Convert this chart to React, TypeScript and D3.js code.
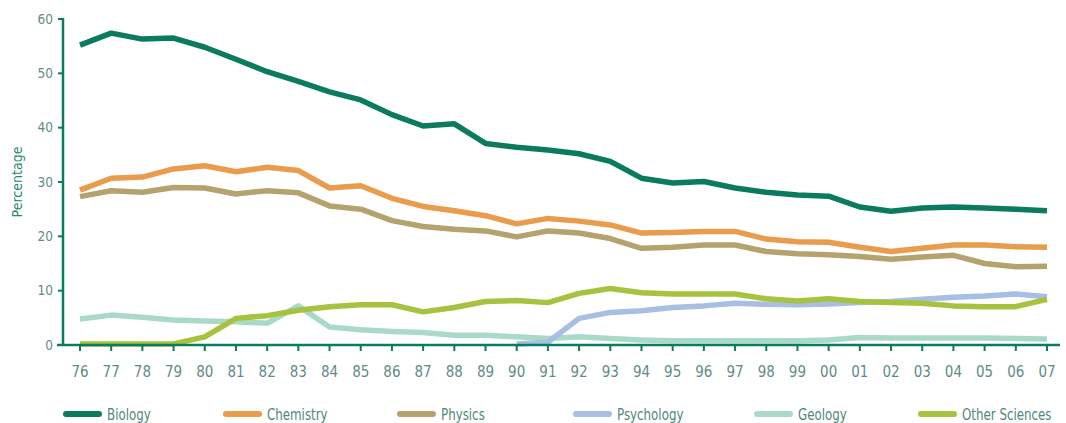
import React from "react";
import * as d3 from "d3";

const years = ["76","77","78","79","80","81","82","83","84","85","86","87","88","89","90","91","92","93","94","95","96","97","98","99","00","01","02","03","04","05","06","07"];

const biology = [55.2,57.4,56.3,56.5,54.8,52.6,50.3,48.5,46.6,45.1,42.4,40.3,40.7,37.1,36.4,35.9,35.2,33.8,30.7,29.8,30.1,28.9,28.1,27.6,27.4,25.4,24.6,25.2,25.4,25.2,25.0,24.7];
const chemistry = [28.5,30.7,30.9,32.4,33.0,31.9,32.7,32.1,28.9,29.3,27.0,25.5,24.7,23.8,22.3,23.3,22.8,22.1,20.6,20.7,20.9,20.9,19.5,19.0,18.9,18.0,17.2,17.8,18.4,18.4,18.1,18.0];
const physics = [27.3,28.4,28.1,29.0,28.9,27.8,28.4,28.0,25.6,25.0,22.9,21.8,21.3,21.0,19.9,21.0,20.6,19.6,17.8,18.0,18.4,18.4,17.2,16.8,16.6,16.3,15.8,16.2,16.5,15.0,14.4,14.5];
const psychology: (number | null)[] = [null,null,null,null,null,null,null,null,null,null,null,null,null,null,0.2,0.5,4.9,6.0,6.3,6.9,7.2,7.7,7.5,7.4,7.55,7.8,8.0,8.4,8.8,9.0,9.4,8.9];
const geology = [4.8,5.5,5.1,4.6,4.4,4.3,4.0,7.2,3.3,2.8,2.5,2.3,1.8,1.8,1.5,1.2,1.5,1.2,0.9,0.8,0.8,0.8,0.8,0.8,0.9,1.4,1.3,1.3,1.3,1.3,1.2,1.1];
const otherSciences = [0.2,0.2,0.2,0.2,1.5,4.9,5.4,6.4,7.05,7.4,7.4,6.1,6.9,8.0,8.2,7.8,9.5,10.4,9.6,9.4,9.4,9.4,8.5,8.1,8.5,8.0,7.8,7.7,7.2,7.05,7.05,8.4];

const yTicks = [0, 10, 20, 30, 40, 50, 60];

const seriesNames = ["Biology","Chemistry","Physics","Psychology","Geology","Other Sciences"];
const seriesColors = ["#0b7b5f","#e89c4c","#b5a26f","#a6bfe2","#a9dac8","#a6c23e"];
const seriesData = [biology, chemistry, physics, psychology, geology, otherSciences];
// drawing order: back to front
const drawOrder = [4, 3, 5, 2, 1, 0];

const W = 1066, H = 423;
const FONT = "'DejaVu Sans Condensed', 'DejaVu Sans', sans-serif";

export default function App() {
  const x = d3.scalePoint<string>().domain(years).range([80, 1047]);
  const y = d3.scaleLinear().domain([0, 60]).range([345, 19]);
  const axisColor = "#0b7b5f";
  const labelColor = "#5f8c84";

  const line = d3.line<number | null>()
    .defined((d) => d !== null)
    .x((_, i) => x(years[i]) as number)
    .y((d) => y(d as number))
    .curve(d3.curveLinear);

  const legendX = [63, 223, 397, 573, 754, 918];

  return (
    <svg width={W} height={H} style={{ position: "absolute", left: 0, top: 0, background: "#fff", fontStretch: "condensed" }} fontFamily={FONT}>
      {/* lines */}
      {drawOrder.map((si) => (
        <path key={si} d={line(seriesData[si] as (number | null)[]) || ""} fill="none"
          stroke={seriesColors[si]} strokeWidth={5.5} strokeLinejoin="round" strokeLinecap="butt" />
      ))}
      {/* y axis */}
      <line x1={63} x2={63} y1={18} y2={346} stroke={axisColor} strokeWidth={2.5} />
      {yTicks.map((t) => (
        <g key={t}>
          <line x1={58} x2={63} y1={y(t)} y2={y(t)} stroke={axisColor} strokeWidth={2} />
          <text x={53} y={y(t)} dy="0.35em" textAnchor="end" fontSize={13.5} fill={labelColor}>{t}</text>
        </g>
      ))}
      {/* x axis */}
      <line x1={57} x2={1060} y1={345} y2={345} stroke={axisColor} strokeWidth={2.5} />
      {years.map((yr) => (
        <g key={yr}>
          <line x1={x(yr)} x2={x(yr)} y1={345} y2={351} stroke={axisColor} strokeWidth={2} />
          <text x={x(yr)} y={377} textAnchor="middle" fontSize={15} fill={labelColor}>{yr}</text>
        </g>
      ))}
      <text transform={`translate(22,182) rotate(-90)`} textAnchor="middle" fontSize={14} fill="#1f8a6c">Percentage</text>
      {/* legend */}
      {seriesNames.map((n, i) => (
        <g key={n}>
          <line x1={legendX[i] + 3} x2={legendX[i] + 36} y1={414} y2={414} stroke={seriesColors[i]} strokeWidth={6} strokeLinecap="round" />
          <text transform={`translate(${legendX[i] + 44},420) scale(0.85,1)`} fontSize={15.5} fill="#4f877c">{n}</text>
        </g>
      ))}
    </svg>
  );
}
